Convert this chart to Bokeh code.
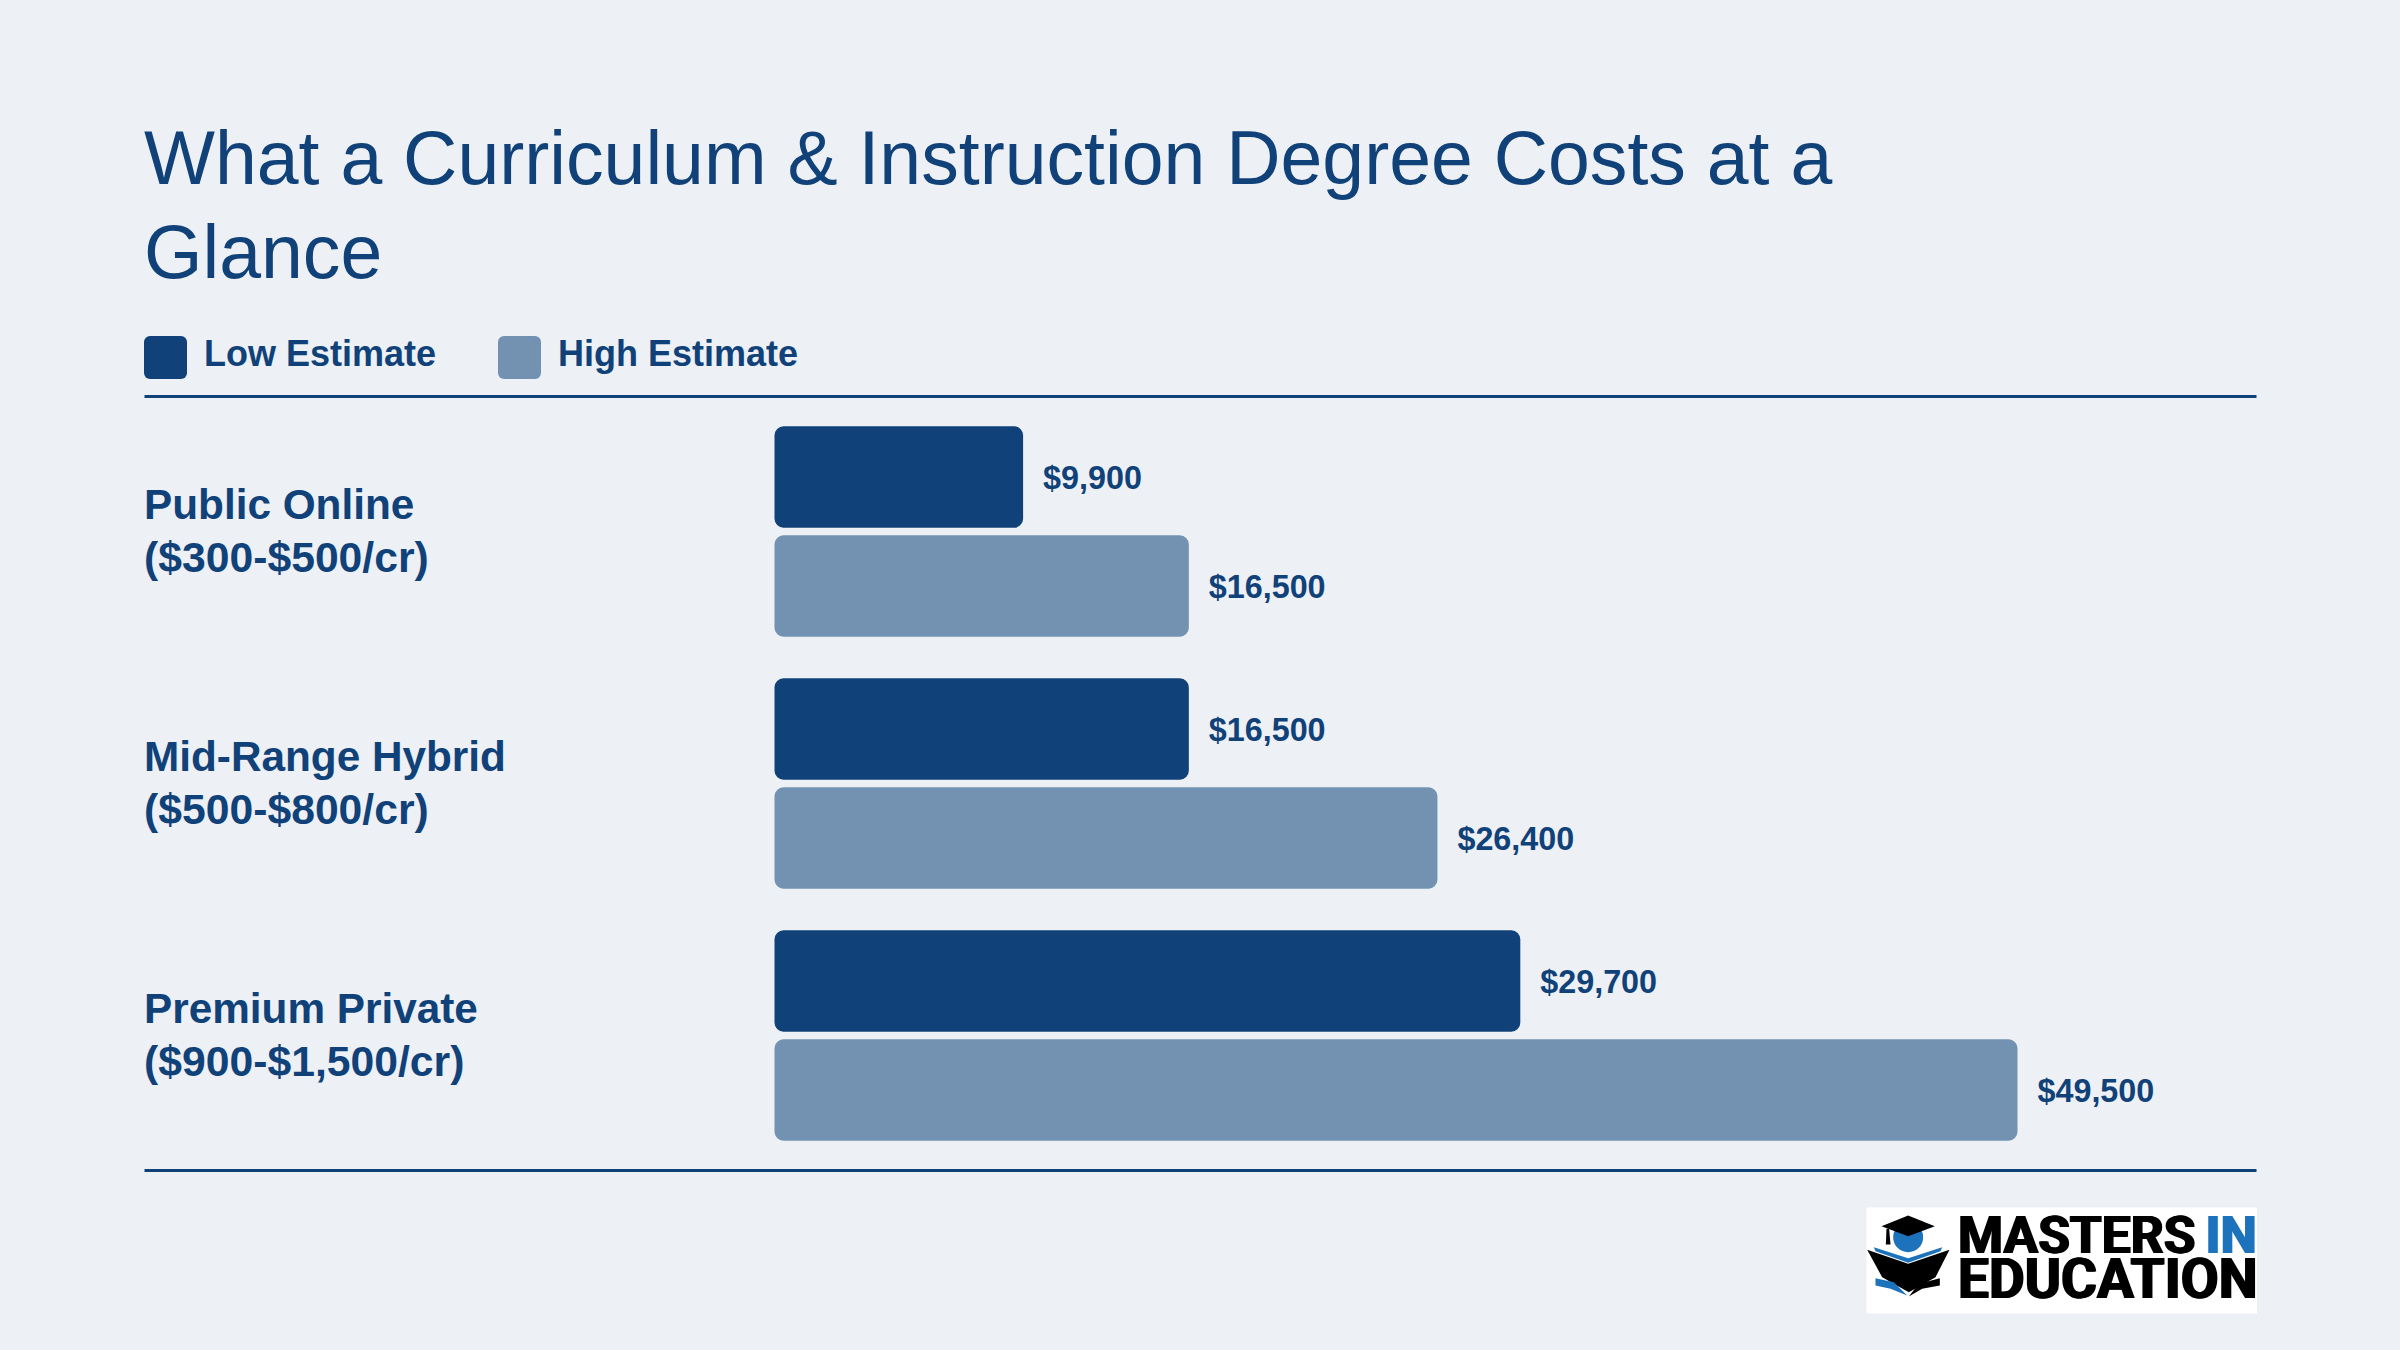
from bokeh.core.properties import value
from bokeh.embed import file_html
from bokeh.models import Range1d
from bokeh.plotting import figure
from bokeh.resources import INLINE

TITLE_LINES = ["What a Curriculum & Instruction Degree Costs at a", "Glance"]
SERIES = ["Low Estimate", "High Estimate"]
CATEGORIES = ["Public Online", "Mid-Range Hybrid", "Premium Private"]
RATES = ["($300-$500/cr)", "($500-$800/cr)", "($900-$1,500/cr)"]
LOW = [9900, 16500, 29700]
HIGH = [16500, 26400, 49500]

DARK = "#104279"
LIGHT = "#7392B2"
BG = "#EDF0F4"
LOGO_BLUE = "#1D72BC"
FONT = "Liberation Sans"

W, H = 2384, 1334
ORIGIN = 0
PX_PER_USD = 1243 / 49500
X0, PX_PER_GROUP = 774, 252
Y0 = 531
BASE_K = 0.33

x_range = Range1d((ORIGIN - X0) / PX_PER_USD, (ORIGIN + W - X0) / PX_PER_USD)
y_range = Range1d((ORIGIN + H - Y0) / PX_PER_GROUP, (ORIGIN - Y0) / PX_PER_GROUP)


def xd(px):
    return (px - X0) / PX_PER_USD


def yd(py):
    return (py - Y0) / PX_PER_GROUP


p = figure(width=W, height=H, x_range=x_range, y_range=y_range, output_backend="svg",
           toolbar_location=None, min_border=0, background_fill_color=BG,
           border_fill_color=BG, outline_line_color=None)
p.axis.visible = False
p.grid.visible = False


def txt(px, py, s, size, color=DARK, style="normal", font=FONT):
    p.text([xd(px)], [yd(py - BASE_K * size)], text=[s], text_font=value(font), text_font_size=f"{size}px",
           text_font_style=style, text_color=color, text_baseline="alphabetic", text_align="left")


# title
TITLE_SIZE = 75.2
txt(143.5, 182, TITLE_LINES[0], TITLE_SIZE)
txt(143.5, 276, TITLE_LINES[1], TITLE_SIZE)

# legend
for left, label, color in zip((143.5, 497.5), SERIES, (DARK, LIGHT)):
    p.quad(left=[xd(left)], right=[xd(left + 43)], top=[yd(335.5)], bottom=[yd(378.5)],
           fill_color=color, line_color=None, border_radius=6)
    txt(left + 60, 365, label, 36, style="bold")

# rules
for py in (396, 1170):
    p.segment([xd(144)], [yd(py)], [xd(2256)], [yd(py)], line_color=DARK, line_width=3)

# bars
groups = list(range(len(CATEGORIES)))
OFFSET, THICK = 54.5 / PX_PER_GROUP, 101.5 / PX_PER_GROUP
VAL_SIZE, NAME_SIZE, RATE_SIZE = 32.3, 42.3, 42.7
for vals, color, sign in ((LOW, DARK, -1), (HIGH, LIGHT, 1)):
    ys = [g + sign * OFFSET for g in groups]
    p.hbar(y=ys, left=0, right=vals, height=THICK, fill_color=color, line_color=None, border_radius=9)
    p.text(x=vals, y=ys, text=[f"${v:,}" for v in vals], x_offset=20, y_offset=11.5 - BASE_K * VAL_SIZE,
           text_font=value(FONT), text_font_size=f"{VAL_SIZE}px", text_font_style="bold",
           text_color=DARK, text_baseline="alphabetic")

# category labels
p.text(x=[xd(143.5)] * 3, y=groups, text=CATEGORIES, y_offset=-13 - BASE_K * NAME_SIZE, text_font=value(FONT),
       text_font_size=f"{NAME_SIZE}px", text_font_style="bold", text_color=DARK, text_baseline="alphabetic")
p.text(x=[xd(143.5)] * 3, y=groups, text=RATES, y_offset=40 - BASE_K * RATE_SIZE, text_font=value(FONT),
       text_font_size=f"{RATE_SIZE}px", text_font_style="bold", text_color=DARK, text_baseline="alphabetic")

# logo
p.quad(left=[xd(1866)], right=[xd(2256.5)], top=[yd(1207)], bottom=[yd(1313)], fill_color="white", line_color=None)


def poly(points, color):
    p.patch([xd(1840 + a / 3) for a, _ in points], [yd(1180 + b / 3) for _, b in points],
            fill_color=color, line_color=None)


p.scatter([xd(1840 + 203 / 3)], [yd(1180 + 170 / 3)], size=30, marker="circle", fill_color=LOGO_BLUE, line_color=None)
poly([(123, 137), (203, 105), (283, 137), (203, 167)], "black")
poly([(138, 145), (146, 145), (150, 192), (136, 192)], "black")
poly([(100, 200), (203, 233), (305, 200), (300, 212), (203, 247), (105, 212)], LOGO_BLUE)
poly([(80, 208), (203, 250), (327, 208), (285, 290), (205, 335), (125, 290)], "black")
poly([(105, 293), (160, 305), (200, 345), (150, 325), (105, 315)], LOGO_BLUE)
poly([(298, 293), (298, 315), (245, 325), (205, 348), (235, 310)], "black")
for dx in (-1, 0, 1):
    txt(1957.5 + dx, 1252, "MASTERS", 51.5, color="black", style="bold", font="Roboto")
    txt(2205 + dx, 1252, "IN", 51.5, color=LOGO_BLUE, style="bold", font="Roboto")
    txt(1957.5 + dx, 1297, "EDUCATION", 55, color="black", style="bold", font="Roboto")

html = file_html(p, INLINE).replace("<head>", f"<head><style>html,body{{background:{BG};}}</style>", 1)
open("out.html", "w").write(html)
